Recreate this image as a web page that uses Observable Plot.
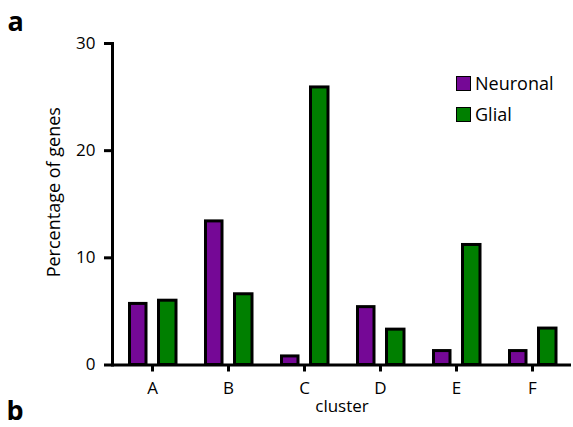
<!DOCTYPE html>
<html>
<head>
<meta charset="utf-8">
<script src="https://cdn.jsdelivr.net/npm/d3@7"></script>
<script src="https://cdn.jsdelivr.net/npm/@observablehq/plot@0.6"></script>
<style>
  html, body { margin: 0; padding: 0; background: #fff; }
  #wrap { position: relative; width: 573px; height: 427px; font-family: "Open Sans", sans-serif; }
  #wrap svg { position: absolute; left: 0; top: 0; }
  .legend { position: absolute; left: 456px; }
  .row { position: absolute; left: 0; display: flex; align-items: center; height: 18px; white-space: nowrap; }
  .sw { width: 15px; height: 15px; box-sizing: border-box; border: 1.5px solid #000; margin-right: 4px; }
  .lab { font-size: 18px; line-height: 18px; color: #000; }
</style>
</head>
<body>
<div id="wrap"></div>
<script>
const clusters = ["A", "B", "C", "D", "E", "F"];
const neuronal = [5.7, 13.4, 0.8, 5.4, 1.3, 1.3];
const glial = [6.0, 6.6, 25.9, 3.3, 11.2, 3.4];
const yTicks = [0, 10, 20, 30];
const seriesNames = ["Neuronal", "Glial"];
const seriesColors = ["#750896", "#007f00"];

const data = clusters.map((c, i) => ({cluster: c, neuronal: neuronal[i], glial: glial[i]}));

const plot = Plot.plot({
  width: 573,
  height: 427,
  marginLeft: 112,
  marginRight: 2,
  marginTop: 43,
  marginBottom: 62.5,
  style: {fontFamily: "Open Sans, sans-serif", color: "#000", background: "transparent"},
  x: {type: "band", domain: clusters, padding: 0},
  y: {domain: [0, 30]},
  marks: [
    Plot.barY(data, {x: "cluster", y: "neuronal", fill: seriesColors[0], stroke: "#000", strokeWidth: 3, insetLeft: 15.5, insetRight: 44}),
    Plot.barY(data, {x: "cluster", y: "glial", fill: seriesColors[1], stroke: "#000", strokeWidth: 3, insetLeft: 44.5, insetRight: 14}),
    Plot.ruleY([0], {strokeWidth: 3}),
    Plot.frame({anchor: "left", strokeWidth: 3}),
    Plot.axisY({ticks: yTicks, tickSize: 8, tickPadding: 9, strokeWidth: 3, fontSize: 17, label: null}),
    Plot.axisX({tickSize: 7, tickPadding: 10, strokeWidth: 3, fontSize: 17, label: "cluster", labelAnchor: "center", labelOffset: 47}),
    Plot.text(["Percentage of genes"], {frameAnchor: "left", textAnchor: "middle", lineAnchor: "middle", rotate: -90, dx: -58, dy: -12, fontSize: 18, fill: "#000"}),
    Plot.text(["a"], {frameAnchor: "top-left", textAnchor: "start", lineAnchor: "middle", dx: -105, dy: -21.6, fontSize: 27, fontWeight: "bold", fill: "#000"}),
    Plot.text(["b"], {frameAnchor: "bottom-left", textAnchor: "start", lineAnchor: "middle", dx: -106, dy: 45.9, fontSize: 27, fontWeight: "bold", fill: "#000"})
  ]
});

const wrap = document.getElementById("wrap");
wrap.appendChild(plot);

const legend = document.createElement("div");
legend.className = "legend";
legend.style.top = "0px";
seriesNames.forEach((name, i) => {
  const row = document.createElement("div");
  row.className = "row";
  row.style.top = (74 + i * 31) + "px";
  const sw = document.createElement("div");
  sw.className = "sw";
  sw.style.background = seriesColors[i];
  const lab = document.createElement("span");
  lab.className = "lab";
  lab.textContent = name;
  row.appendChild(sw);
  row.appendChild(lab);
  legend.appendChild(row);
});
wrap.appendChild(legend);
</script>
</body>
</html>
